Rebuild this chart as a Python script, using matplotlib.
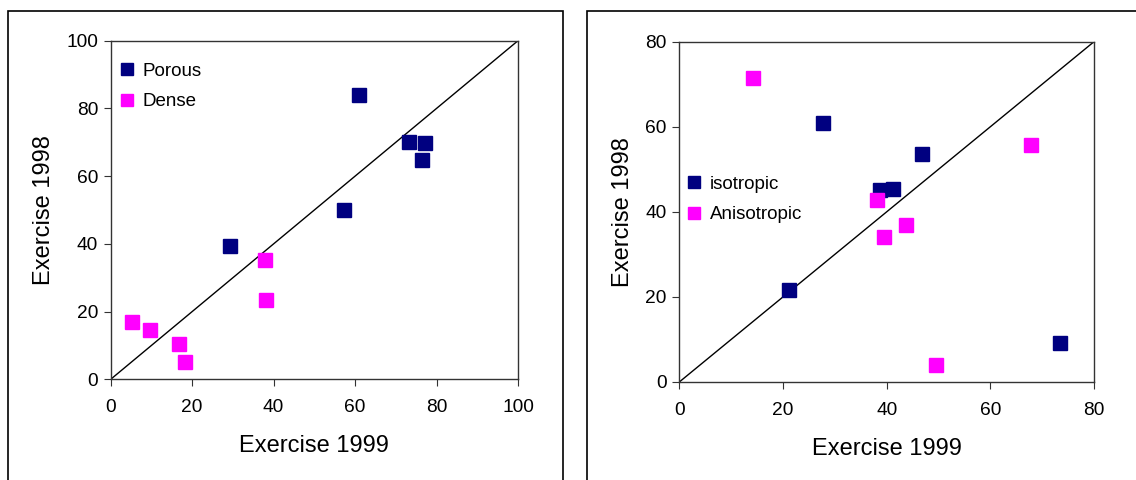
import matplotlib.pyplot as plt
from matplotlib.lines import Line2D
from matplotlib.patches import Rectangle

plt.rcParams['font.family'] = ['Liberation Sans', 'DejaVu Sans']

# left panel: porous vs dense
porous_x = [29.2, 57.2, 60.9, 73.2, 77.2, 76.5]
porous_y = [39.5, 50.0, 84.1, 70.2, 69.7, 64.8]
dense_x = [5.2, 9.6, 16.8, 18.2, 37.9, 38.2]
dense_y = [16.8, 14.6, 10.3, 5.0, 35.2, 23.4]

# right panel: isotropic vs anisotropic
iso_x = [27.8, 46.9, 38.8, 41.2, 21.2, 73.5]
iso_y = [61.0, 53.7, 45.1, 45.4, 21.6, 9.2]
aniso_x = [14.2, 67.8, 38.1, 39.5, 43.8, 49.6]
aniso_y = [71.5, 55.8, 42.9, 34.2, 36.9, 3.9]

left_ticks = [0, 20, 40, 60, 80, 100]
right_ticks = [0, 20, 40, 60, 80]

NAVY = '#000080'
MAGENTA = '#FF00FF'

W, H = 1136, 480
fig = plt.figure(figsize=(W / 100, H / 100), dpi=100)


def px_rect(x0, y0, x1, y1):
    # pixel box (top-left origin) -> figure fraction rect
    return [x0 / W, 1 - y1 / H, (x1 - x0) / W, (y1 - y0) / H]


# panel frames
for x0, x1 in [(7.5, 562.5), (586.5, 1200)]:
    fig.patches.append(Rectangle((x0 / W, 1 - 520 / H), (x1 - x0) / W, (520 - 10.5) / H,
                                 transform=fig.transFigure, fill=False,
                                 edgecolor='black', linewidth=1.2))


def panel(rect, s1, s2, lim, ticks, labels, leg_anchor):
    ax = fig.add_axes(rect)
    ax.plot([0, lim], [0, lim], color='black', linewidth=1.0, zorder=1)
    ax.plot(s1[0], s1[1], 's', color=NAVY, markersize=10.5, linestyle='none', zorder=3)
    ax.plot(s2[0], s2[1], 's', color=MAGENTA, markersize=10.5, linestyle='none', zorder=3)
    ax.set_xlim(0, lim)
    ax.set_ylim(0, lim)
    ax.set_xticks(ticks)
    ax.set_yticks(ticks)
    ax.tick_params(direction='out', length=5, width=0.8, labelsize=13.8, color='#333333')
    ax.tick_params(axis='x', pad=9.5)
    ax.tick_params(axis='y', pad=4)
    for sp in ax.spines.values():
        sp.set_linewidth(1.0)
        sp.set_color('#333333')
    ax.set_xlabel('Exercise 1999', fontsize=17, labelpad=13.5)
    ax.set_ylabel('Exercise 1998', fontsize=17, labelpad=8)
    handles = [Line2D([], [], marker='s', color=NAVY, linestyle='none', markersize=8),
               Line2D([], [], marker='s', color=MAGENTA, linestyle='none', markersize=8)]
    ax.legend(handles, labels, loc='upper left', bbox_to_anchor=leg_anchor, frameon=False,
              fontsize=13.5, handlelength=0.6, handletextpad=0.55, labelspacing=0.7,
              borderaxespad=0, borderpad=0)
    return ax


panel(px_rect(110.7, 40.7, 518, 379.3), (porous_x, porous_y), (dense_x, dense_y),
      100, left_ticks, ['Porous', 'Dense'], (0.025, 0.935))
panel(px_rect(679.3, 41.7, 1094, 382), (iso_x, iso_y), (aniso_x, aniso_y),
      80, right_ticks, ['isotropic', 'Anisotropic'], (0.022, 0.606))

fig.savefig('out.png', dpi=100)
